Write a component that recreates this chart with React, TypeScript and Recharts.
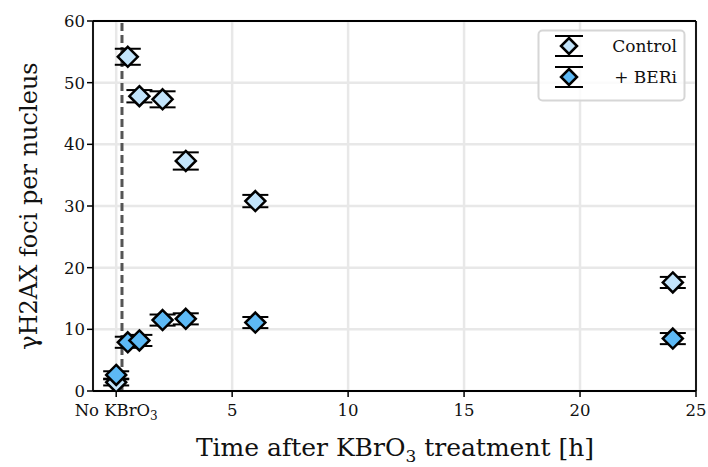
import React from 'react';
import { ScatterChart, Scatter, XAxis, YAxis, CartesianGrid, ErrorBar, ReferenceLine, Label } from 'recharts';

// hours after KBrO3 treatment (0 = untreated)
const hours = [0, 0.5, 1, 2, 3, 6, 24];
const controlFoci = [1.4, 54.2, 47.8, 47.3, 37.3, 30.8, 17.6];
const controlErr = [0.5, 1.3, 1.0, 1.3, 1.4, 1.0, 0.9];
const beriFoci = [2.6, 7.9, 8.2, 11.5, 11.7, 11.1, 8.5];
const beriErr = [0.6, 0.9, 0.9, 0.9, 0.9, 0.9, 0.9];
const xTicks = [0, 5, 10, 15, 20, 25];
const yTicks = [0, 10, 20, 30, 40, 50, 60];

const CONTROL_FILL = '#c2e4fb';
const BERI_FILL = '#5db9f5';
const FONT = '"DejaVu Serif", serif';

const controlData = hours.map((h, i) => ({ x: h, y: controlFoci[i], err: controlErr[i] }));
const beriData = hours.map((h, i) => ({ x: h, y: beriFoci[i], err: beriErr[i] }));

const diamond = (fill: string) => (props: any) => {
  const { cx, cy } = props;
  const r = 10;
  return (
    <path
      d={`M${cx},${cy - r}L${cx + r},${cy}L${cx},${cy + r}L${cx - r},${cy}Z`}
      fill={fill}
      stroke="#000"
      strokeWidth={2.5}
    />
  );
};

const XTick = (props: any) => {
  const { x, y, payload } = props;
  if (payload.value === 0) {
    return (
      <text x={x} y={y + 17} textAnchor="middle" fontFamily={FONT} fontSize={16.5} fill="#111">
        No KBrO<tspan dy={4} fontSize={12}>3</tspan>
      </text>
    );
  }
  return (
    <text x={x} y={y + 17} textAnchor="middle" fontFamily={FONT} fontSize={16.5} fill="#111">
      {payload.value}
    </text>
  );
};

const legendItems = [
  { name: 'Control', fill: CONTROL_FILL },
  { name: '+ BERi', fill: BERI_FILL },
];

function LegendBox() {
  return (
    <svg width={150} height={74} style={{ position: 'absolute', left: 537, top: 29 }}>
      <rect x={1.5} y={1.5} width={146} height={70} rx={4} fill="#fff" fillOpacity={0.8} stroke="#d6d6d6" strokeWidth={2} />
      {legendItems.map((item, i) => {
        const cy = 17 + i * 31;
        const cx = 32;
        return (
          <g key={item.name}>
            <line x1={cx} y1={cy - 10} x2={cx} y2={cy + 10} stroke="#000" strokeWidth={2} />
            <line x1={cx - 14} y1={cy - 10} x2={cx + 14} y2={cy - 10} stroke="#000" strokeWidth={2} />
            <line x1={cx - 14} y1={cy + 10} x2={cx + 14} y2={cy + 10} stroke="#000" strokeWidth={2} />
            <path d={`M${cx},${cy - 8}L${cx + 8},${cy}L${cx},${cy + 8}L${cx - 8},${cy}Z`} fill={item.fill} stroke="#000" strokeWidth={2.5} />
            <text x={140} y={cy + 6} textAnchor="end" fontFamily={FONT} fontSize={17} fill="#111">
              {item.name}
            </text>
          </g>
        );
      })}
    </svg>
  );
}

export default function App() {
  return (
    <div style={{ position: 'absolute', left: 0, top: 0, width: 708, height: 467, background: '#fff' }}>
      <ScatterChart width={708} height={467} margin={{ top: 21, right: 12, bottom: 0, left: 0 }}>
        <CartesianGrid stroke="#e8e8e8" strokeWidth={2.5} />
        <XAxis
          type="number"
          dataKey="x"
          domain={[-1, 25]}
          ticks={xTicks}
          allowDataOverflow
          height={76}
          tick={<XTick />}
          tickSize={6}
          tickLine={{ stroke: '#000', strokeWidth: 1.5 }}
          axisLine={{ stroke: '#000', strokeWidth: 1.8 }}
        >
          <Label
            content={() => (
              <text x={395} y={456} textAnchor="middle" fontFamily={FONT} fontSize={25} fill="#111">
                Time after KBrO<tspan dy={6} fontSize={17}>3</tspan><tspan dy={-6}> treatment [h]</tspan>
              </text>
            )}
          />
        </XAxis>
        <YAxis
          type="number"
          dataKey="y"
          domain={[0, 60]}
          ticks={yTicks}
          allowDataOverflow
          width={93}
          tickSize={6}
          tick={{ fontFamily: FONT, fontSize: 16.5, fill: '#111' }}
          tickLine={{ stroke: '#000', strokeWidth: 1.5 }}
          axisLine={{ stroke: '#000', strokeWidth: 1.8 }}
        >
          <Label
            content={() => (
              <text
                x={30}
                y={206}
                transform="rotate(-90 30 206)"
                textAnchor="middle"
                dominantBaseline="middle"
                fontFamily={FONT}
                fontSize={24}
                fill="#111"
              >
                γH2AX foci per nucleus
              </text>
            )}
          />
        </YAxis>
        <ReferenceLine y={60} stroke="#000" strokeWidth={1.8} />
        <ReferenceLine x={25} stroke="#000" strokeWidth={1.8} />
        <ReferenceLine x={0.25} stroke="#555" strokeWidth={3} strokeDasharray="8 4" />
        <Scatter data={controlData} shape={diamond(CONTROL_FILL)} isAnimationActive={false}>
          <ErrorBar dataKey="err" direction="y" width={13} stroke="#000" strokeWidth={2} />
        </Scatter>
        <Scatter data={beriData} shape={diamond(BERI_FILL)} isAnimationActive={false}>
          <ErrorBar dataKey="err" direction="y" width={13} stroke="#000" strokeWidth={2} />
        </Scatter>
      </ScatterChart>
      <LegendBox />
    </div>
  );
}
